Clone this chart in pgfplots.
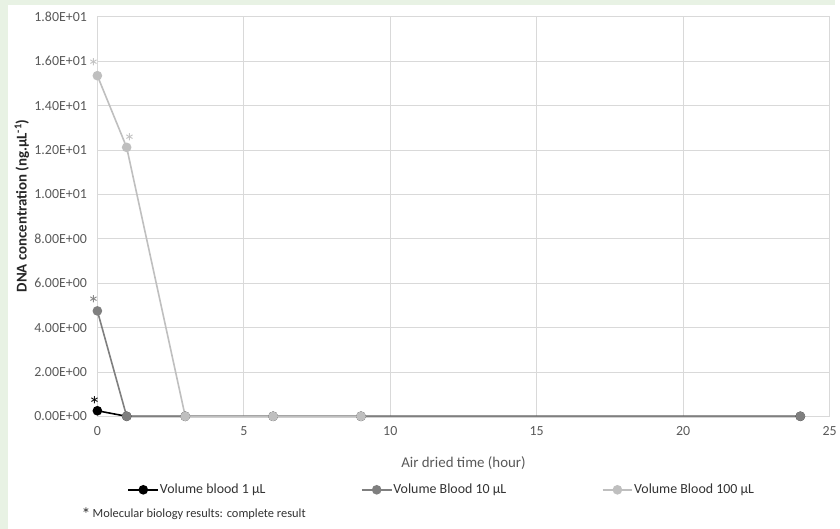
\documentclass[border=0pt]{standalone}
\usepackage{fontspec}
\setmainfont{Carlito}
\usepackage{pgfplots}
\pgfplotsset{compat=1.18}
\definecolor{bggreen}{RGB}{232,242,228}
\definecolor{gridc}{RGB}{217,217,217}
\definecolor{tickc}{RGB}{89,89,89}
\definecolor{cone}{RGB}{0,0,0}
\definecolor{cten}{RGB}{127,127,127}
\definecolor{chun}{RGB}{191,191,191}
\begin{document}
\begin{tikzpicture}[x=1pt,y=1pt]
\fill[bggreen] (0,0) rectangle (840,532);
\fill[white] (8,0) rectangle (840,527);
\begin{axis}[
  at={(98pt,113pt)}, anchor=south west,
  scale only axis, width=737pt, height=402pt,
  xmin=0, xmax=25, ymin=0, ymax=18,
  xtick={0,5,10,15,20,25},
  ytick={0,2,4,6,8,10,12,14,16,18},
  yticklabels={0.00E+00,2.00E+00,4.00E+00,6.00E+00,8.00E+00,1.00E+01,1.20E+01,1.40E+01,1.60E+01,1.80E+01},
  /pgf/number format/assume math mode=true,
  grid=major,
  grid style={draw=gridc, line width=0.8pt},
  axis line style={draw=gridc, line width=0.8pt},
  major tick length=0pt,
  tick label style={text=tickc, font=\fontsize{14}{16}\selectfont},
  xticklabel style={yshift=-7pt},
  yticklabel style={xshift=-7pt},
  xlabel={Air dried time (hour)},
  xlabel style={at={(rel axis cs:0.5,-0.117)}, anchor=center, text=tickc, font=\fontsize{15}{17}\selectfont},
  ylabel={\textbf{DNA concentration (ng.µL\textsuperscript{-1})}},
  ylabel style={at={(rel axis cs:-0.103,0.527)}, anchor=center, text=black!85, font=\fontsize{15}{17}\selectfont},
  legend columns=3,
  legend style={at={(rel axis cs:0.041,-0.184)}, anchor=west, draw=none, fill=none, inner sep=0pt,
    font=\fontsize{14}{16}\selectfont, text=black!80,
    nodes={inner sep=1pt},
    /tikz/every even column/.append style={column sep=95pt}},
  legend image code/.code={\draw[#1, mark repeat=2, mark phase=2] plot coordinates {(0pt,0pt)(15pt,0pt)(30pt,0pt)};},
  clip=false,
]
\addplot[cone, line width=1.6pt, mark=*, mark size=4pt] coordinates {(0,0.25)(1,0)(3,0)(6,0)(9,0)(24,0)};
\addlegendentry{Volume blood 1 µL}
\addplot[cten, line width=1.6pt, mark=*, mark size=4pt] coordinates {(0,4.75)(1,0)(3,0)(6,0)(9,0)(24,0)};
\addlegendentry{Volume Blood 10 µL}
\addplot[chun, line width=1.6pt, mark=*, mark size=4pt] coordinates {(0,15.35)(1,12.12)(3,0)(6,0)(9,0)};
\addlegendentry{Volume Blood 100 µL}
% asterisks
\addplot[draw=none, mark=none, forget plot, nodes near coords={*},
  every node near coord/.append style={anchor=center, text=chun, font=\fontsize{24}{24}\selectfont}]
  coordinates {(-0.13,15.75)(1.1,12.35)};
\addplot[draw=none, mark=none, forget plot, nodes near coords={*},
  every node near coord/.append style={anchor=center, text=cten, font=\fontsize{24}{24}\selectfont}]
  coordinates {(-0.13,5.05)};
\addplot[draw=none, mark=none, forget plot, nodes near coords={*},
  every node near coord/.append style={anchor=center, text=black, font=\fontsize{24}{24}\selectfont}]
  coordinates {(-0.1,0.5)};
\end{axis}
\node[anchor=west, inner sep=0pt, font=\fontsize{12.5}{15}\selectfont, text=black!80] at (82,15) {{\fontsize{18}{18}\selectfont\raisebox{-3pt}{*}}\,Molecular biology results: complete result};
\end{tikzpicture}
\end{document}
